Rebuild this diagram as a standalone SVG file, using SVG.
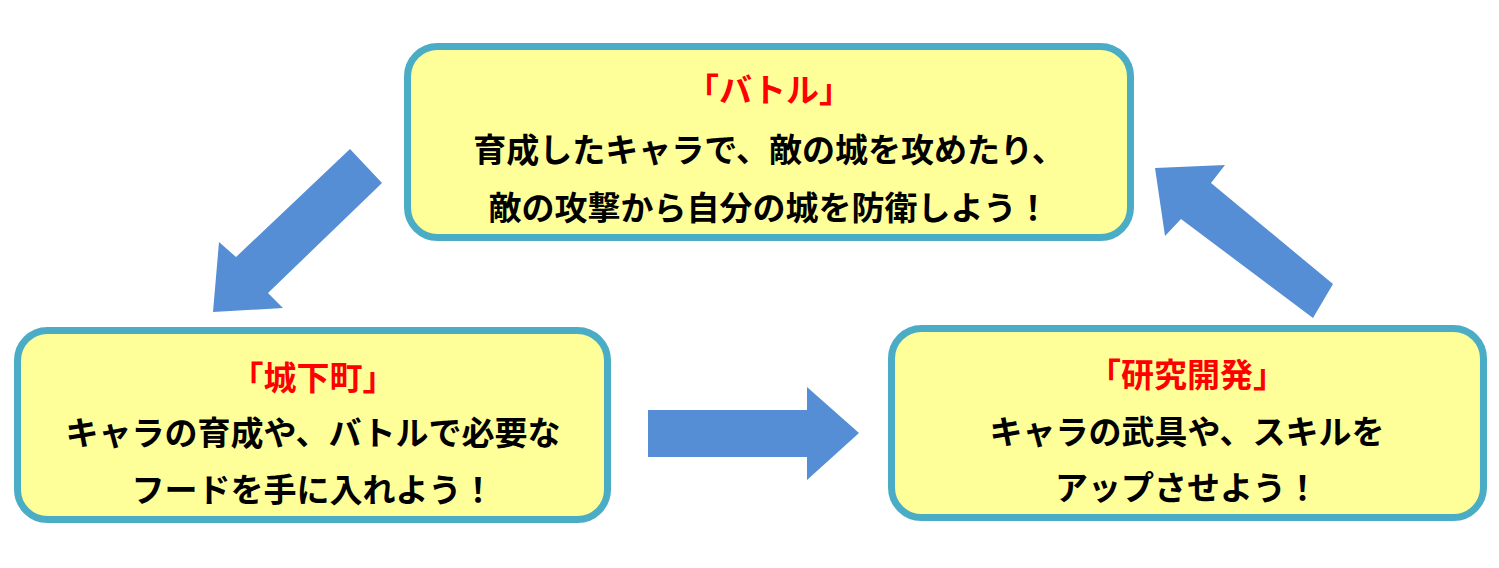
<svg xmlns="http://www.w3.org/2000/svg" width="1499" height="568" viewBox="0 0 1499 568">
<style>
.box{fill:#FFFF99;stroke:#4BACC6;stroke-width:7}
.t{font-family:"Noto Sans CJK JP","Noto Sans",sans-serif;font-weight:bold;font-size:33px;text-anchor:middle;fill:#000}
.r{fill:#FF0000}
.arr{fill:#558ED5}
</style>
<rect width="1499" height="568" fill="#FFFFFF"/>
<g id="connectors">
<polygon class="arr" points="350,149 382,183 268,293 283,308 213,312 219,242 236,257"/>
<polygon class="arr" points="648,410 807,410 807,387 859,433 807,480 807,457 648,457"/>
<polygon class="arr" points="1155,168 1225,165 1211,183 1333,284 1313,318 1181,219 1165,236"/>
</g>
<g id="battle">
<rect class="box" x="407.5" y="46.5" width="723" height="191" rx="30"/>
<text class="t r" x="769" y="102">「バトル」</text>
<text class="t" x="769" y="162">育成したキャラで、敵の城を攻めたり、</text>
<text class="t" x="769" y="220">敵の攻撃から自分の城を防衛しよう！</text>
</g>
<g id="town">
<rect class="box" x="17.5" y="330.5" width="590" height="189" rx="30"/>
<text class="t r" x="313" y="390">「城下町」</text>
<text class="t" x="313" y="445">キャラの育成や、バトルで必要な</text>
<text class="t" x="313" y="502">フードを手に入れよう！</text>
</g>
<g id="research">
<rect class="box" x="891.5" y="328.5" width="592" height="189" rx="30"/>
<text class="t r" x="1187" y="387">「研究開発」</text>
<text class="t" x="1187" y="444">キャラの武具や、スキルを</text>
<text class="t" x="1187" y="500">アップさせよう！</text>
</g>
</svg>
